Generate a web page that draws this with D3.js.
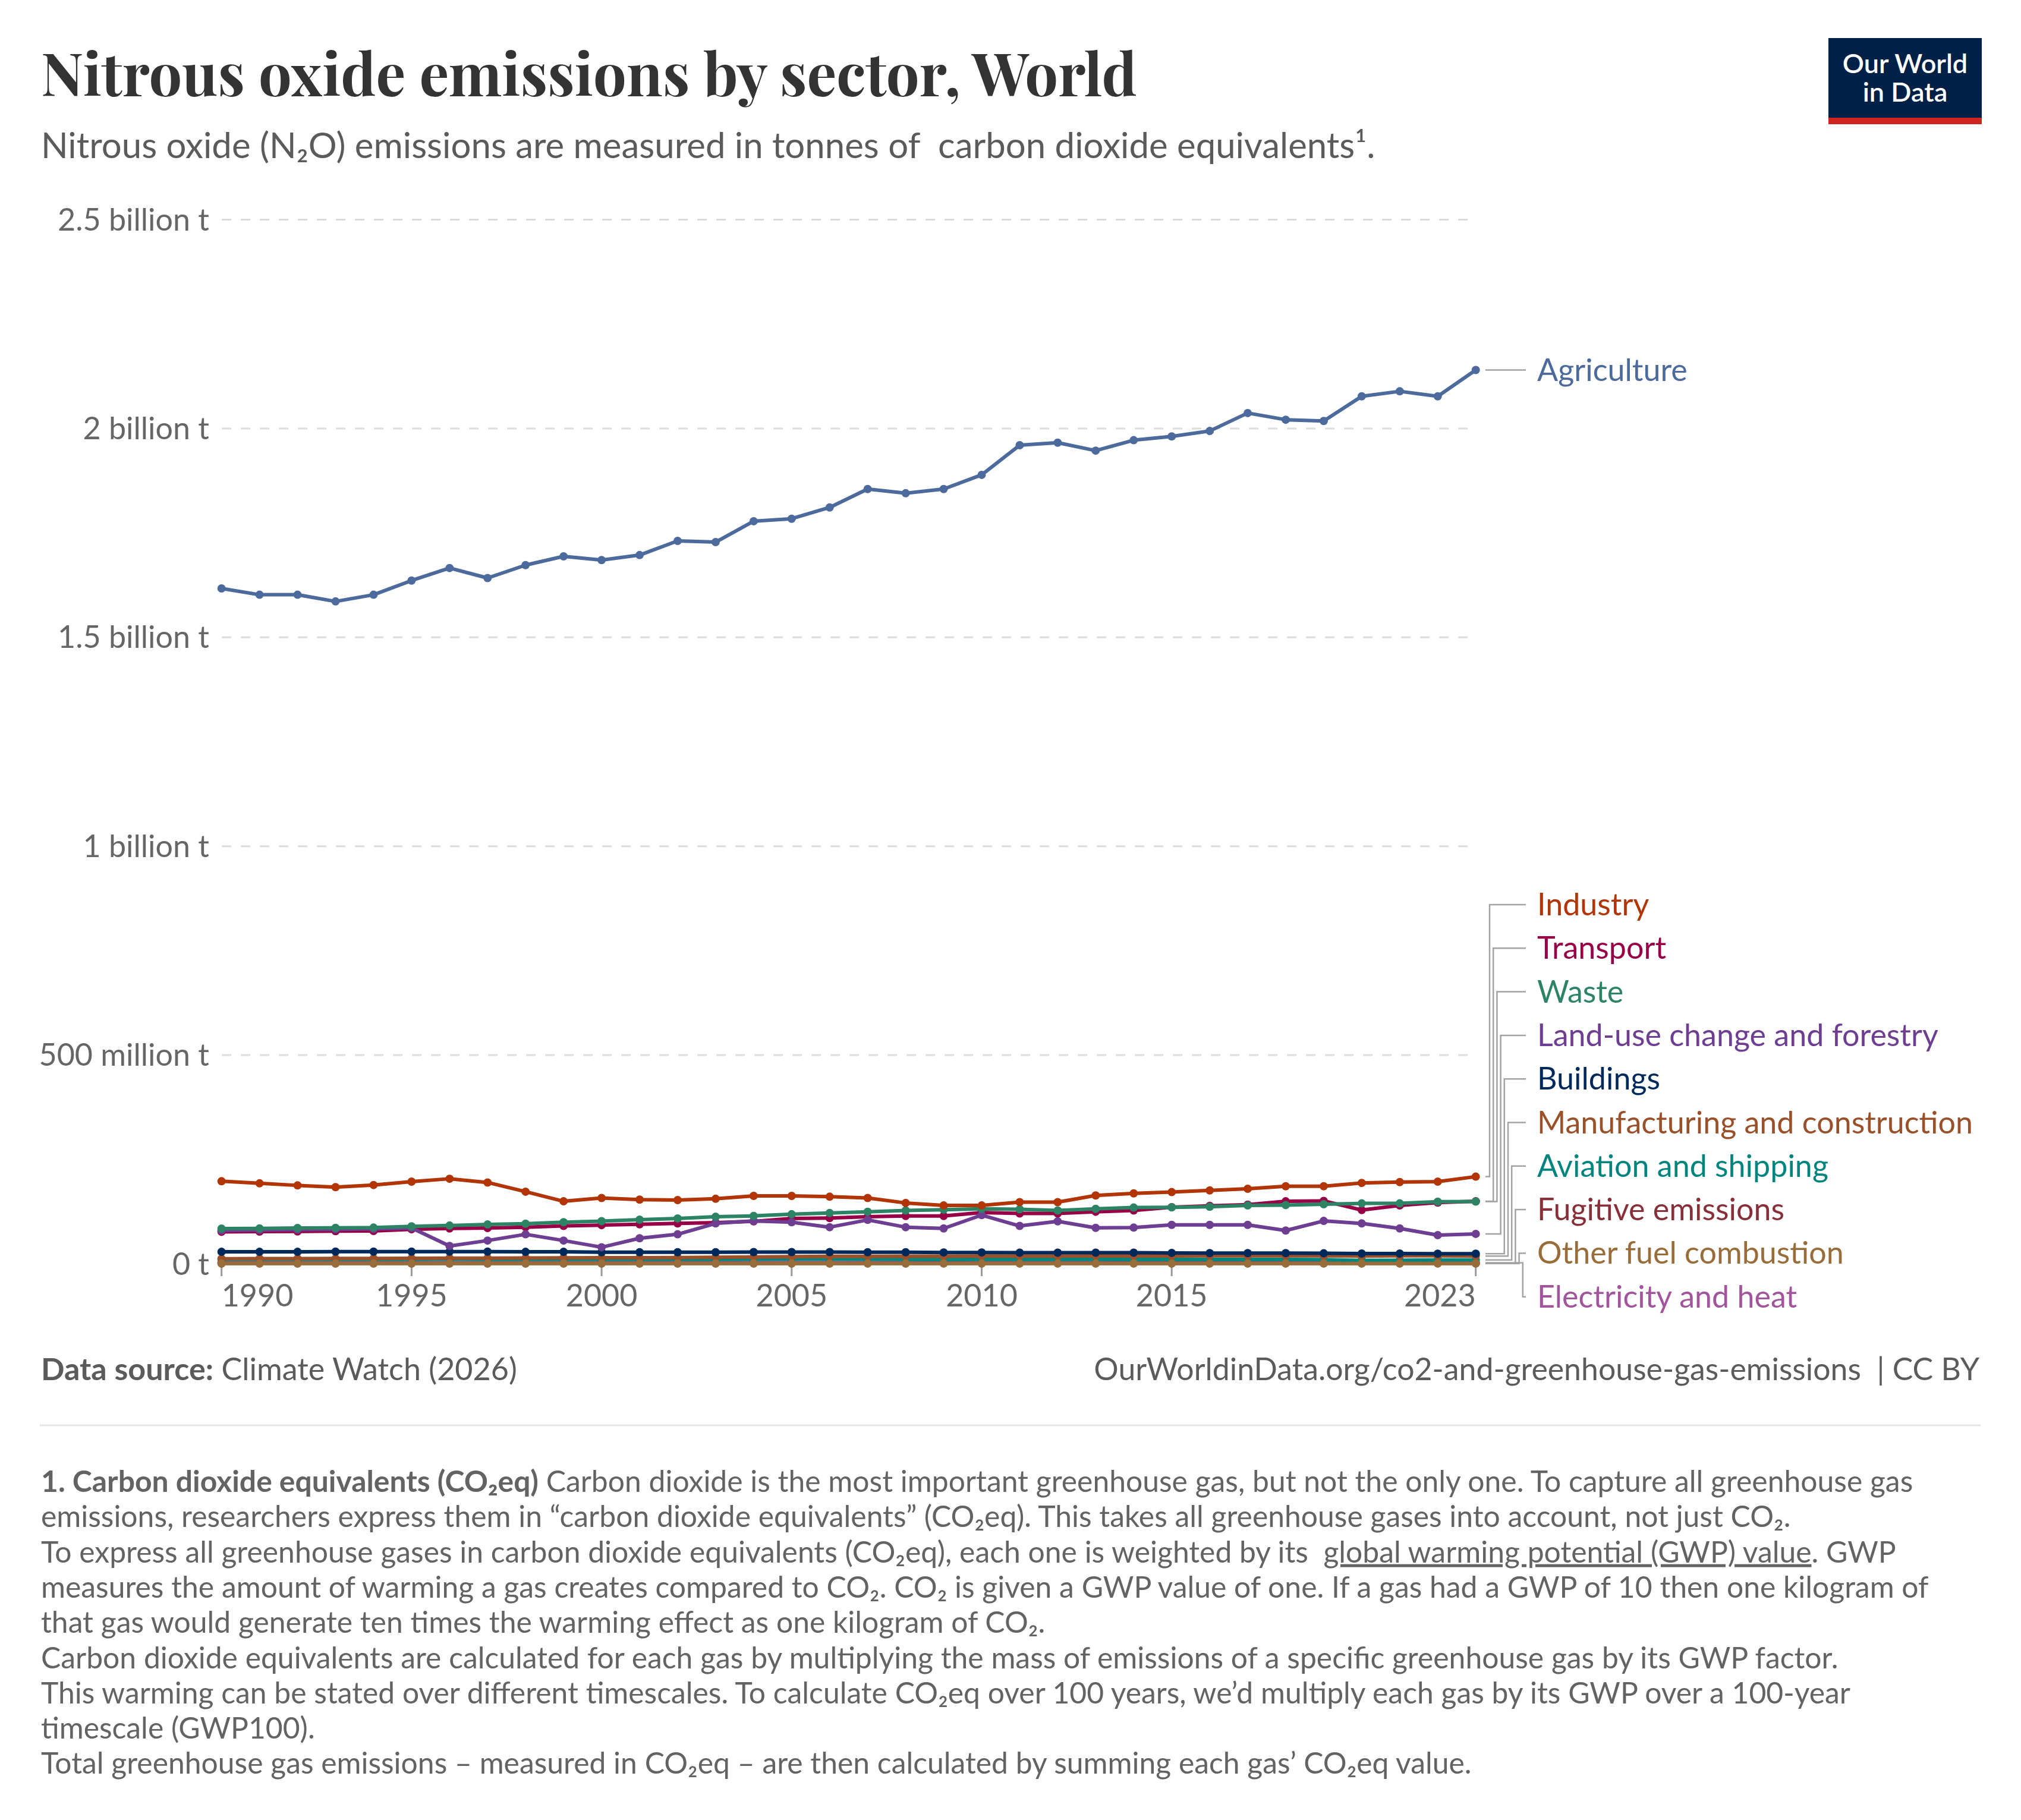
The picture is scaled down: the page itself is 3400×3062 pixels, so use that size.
<!DOCTYPE html>
<html>
<head>
<meta charset="utf-8">
<script src="https://cdn.jsdelivr.net/npm/d3@7/dist/d3.min.js"></script>
<style>
body { margin: 0; background: #fff; }
svg text { font-family: Lato, "Noto Sans", sans-serif; }
</style>
</head>
<body>
<script>
// values in million tonnes CO2eq
var years = [1990,1991,1992,1993,1994,1995,1996,1997,1998,1999,2000,2001,2002,2003,2004,2005,2006,
  2007,2008,2009,2010,2011,2012,2013,2014,2015,2016,2017,2018,2019,2020,2021,2022,2023];

var agriculture = [1617,1602,1602,1586,1602,1636,1666,1642,1673,1694,1685,1697,1731,1728,1778,1784,1811,
  1855,1845,1855,1889,1960,1966,1947,1972,1981,1994,2037,2021,2018,2077,2089,2077,2140];
var industry = [198,193,188,184,189,197,204,195,173,150,158,154,153,156,163,163,161,
  158,146,140,140,148,148,164,169,172,176,180,186,186,194,196,197,209];
var transport = [77,77.5,78,78.5,79,83,85,86,88,91,93,95,97,99,102,109,110,
  113,115,115,123,121,121,125,128,136,139,142,150,151,129,140,147,150];
var waste = [84.5,85,86,86.5,87,90,92,94.5,96.5,100,102.5,106,109,113,115,119,122,
  125,128,130,132,131,128,132,135,135.5,137,140,141,143,145,145,149,149.5];
var landUse = [80,81,82,83,84,86,43,56,71,56,40,61.5,71,97,103,100,88,
  105.5,88,85,117,91,102,86.5,87,93.6,93.6,93.6,80,103,97,85,69,72];
var buildings = [29,29,29,29.5,29.5,29.5,29.5,29.5,29,29,28,28,28,28,28.5,28.5,28.5,
  28,28,27.5,27.5,27,27,27,27,26.5,26,26,26,25.5,25,25,24.5,24.5];
var manufacturing = [12.5,12.7,12.8,13,13.2,13.5,13.8,14,14.2,14.5,14.8,15,15.3,16,16.8,17.5,18,
  18.3,18.5,18.5,19,19,19,19.2,19.3,19.3,19.4,19.4,19.5,19.5,19,19.5,19.5,19];
var aviation = [11,11,11,11,11.2,11.2,11.3,11.2,11,11,11.2,11,11,11.2,11.4,11.6,11.6,
  11.5,11.2,10.8,11,11,10.9,10.9,10.8,10.7,10.6,10.6,10.5,10.4,8.5,9,9.5,9.5];
var fugitive = [1.5,1.5,1.5,1.5,1.5,1.5,1.5,1.5,1.5,1.5,1.5,1.5,1.5,1.5,1.6,1.6,1.6,
  1.6,1.6,1.6,1.6,1.6,1.6,1.6,1.6,1.6,1.6,1.6,1.6,1.6,1.6,1.6,1.6,1.6];
var otherFuel = [1,1,1,1,1,1,1,1,1,1,1,1,1,1,1,1,1,
  1,1,1,1,1,1,1,1,1,1,1,1,1,1,1,1,1];
var electricity = [3,3,3,3,3,3,3,3,3,3,3,3.1,3.1,3.2,3.2,3.3,3.3,
  3.3,3.3,3.2,3.3,3.3,3.3,3.3,3.2,3.2,3.1,3.1,3.1,3,2.9,3,3,3];

var yTicks = [0, 500, 1000, 1500, 2000, 2500];
var yTickLabels = ["0 t", "500 million t", "1 billion t", "1.5 billion t", "2 billion t", "2.5 billion t"];
var xTicks = [1990, 1995, 2000, 2005, 2010, 2015, 2023];

// legend order (top to bottom) for the lower cluster
var legendNames = ["Industry", "Transport", "Waste", "Land-use change and forestry", "Buildings",
  "Manufacturing and construction", "Aviation and shipping", "Fugitive emissions",
  "Other fuel combustion", "Electricity and heat"];

var series = [
  {name: "Electricity and heat", color: "#A2559C", values: electricity},
  {name: "Fugitive emissions", color: "#883039", values: fugitive},
  {name: "Aviation and shipping", color: "#00847E", values: aviation},
  {name: "Manufacturing and construction", color: "#9A5129", values: manufacturing},
  {name: "Other fuel combustion", color: "#996D39", values: otherFuel},
  {name: "Buildings", color: "#00295B", values: buildings},
  {name: "Transport", color: "#970046", values: transport},
  {name: "Land-use change and forestry", color: "#6D3E91", values: landUse},
  {name: "Waste", color: "#2C8465", values: waste},
  {name: "Industry", color: "#B13507", values: industry},
  {name: "Agriculture", color: "#4C6A9C", values: agriculture}
];

var W = 3400, H = 3062;
var svg = d3.select("body").append("svg").attr("width", W).attr("height", H);
svg.append("rect").attr("width", W).attr("height", H).attr("fill", "#fff");

var x = d3.scaleLinear().domain([1990, 2023]).range([372.7, 2482.7]);
var y = d3.scaleLinear().domain([0, 2500]).range([2126.5, 369.5]);

// shrink/grow a text's font so it spans the width seen in the picture
function fitWidth(sel, size, target) {
  var w = sel.node().getComputedTextLength();
  sel.style("font-size", (size * target / w) + "px");
}

// title
var title = svg.append("text")
  .attr("x", 69).attr("y", 162)
  .style("font-family", "'Playfair Display', 'Liberation Serif', 'DejaVu Serif', serif")
  .style("font-weight", "700")
  .style("font-size", "100px")
  .attr("fill", "#333")
  .text("Nitrous oxide emissions by sector, World");
fitWidth(title, 100, 1844);

var sub = svg.append("text")
  .attr("x", 69).attr("y", 266)
  .style("font-size", "52px")
  .attr("fill", "#5b5b5b")
  .text("Nitrous oxide (N\u2082O) emissions are measured in tonnes of\u00a0 carbon dioxide equivalents\u00b9.");
fitWidth(sub, 52, 2245);

// logo
var logo = svg.append("g");
logo.append("rect").attr("x", 3076).attr("y", 64).attr("width", 258).attr("height", 145).attr("fill", "#002147");
logo.append("rect").attr("x", 3076).attr("y", 198).attr("width", 258).attr("height", 11).attr("fill", "#ce261e");
logo.append("text").attr("x", 3205).attr("y", 123).attr("text-anchor", "middle")
  .style("font-size", "45px").style("font-weight", "600").attr("fill", "#fff").text("Our World");
logo.append("text").attr("x", 3205).attr("y", 171).attr("text-anchor", "middle")
  .style("font-size", "45px").style("font-weight", "600").attr("fill", "#fff").text("in Data");

// grid
svg.append("g").selectAll("line").data(yTicks).enter().append("line")
  .attr("x1", 373).attr("x2", 2484)
  .attr("y1", function(d) { return y(d); })
  .attr("y2", function(d) { return y(d); })
  .attr("stroke", "#dcdcdc").attr("stroke-width", 3)
  .attr("stroke-dasharray", "16,16");

svg.append("g").selectAll("text").data(yTicks).enter().append("text")
  .attr("x", 352)
  .attr("y", function(d) { return y(d) + 18; })
  .attr("text-anchor", "end")
  .style("font-size", "52px")
  .attr("fill", "#666")
  .text(function(d, i) { return yTickLabels[i]; });

// x axis ticks
svg.append("g").selectAll("line").data(xTicks).enter().append("line")
  .attr("x1", function(d) { return x(d); }).attr("x2", function(d) { return x(d); })
  .attr("y1", 2131).attr("y2", 2147)
  .attr("stroke", "#999").attr("stroke-width", 3);

svg.append("g").selectAll("text").data(xTicks).enter().append("text")
  .attr("x", function(d) { return x(d); })
  .attr("y", 2198)
  .attr("text-anchor", function(d, i) { return i == 0 ? "start" : (i == xTicks.length - 1 ? "end" : "middle"); })
  .style("font-size", "52px")
  .attr("fill", "#666")
  .text(function(d) { return d; });

// lines
var line = d3.line()
  .x(function(d, i) { return x(years[i]); })
  .y(function(d) { return y(d); });

var lineGroup = svg.append("g");
series.forEach(function(s) {
  var g = lineGroup.append("g");
  g.append("path")
    .attr("d", line(s.values))
    .attr("fill", "none")
    .attr("stroke", s.color)
    .attr("stroke-width", 6)
    .attr("stroke-linejoin", "round");
  g.selectAll("circle").data(s.values).enter().append("circle")
    .attr("cx", function(d, i) { return x(years[i]); })
    .attr("cy", function(d) { return y(d); })
    .attr("r", 7)
    .attr("fill", s.color);
});

// labels + connectors
var labelX = 2586, stubEnd = 2567, lineEnd = 2499;
var conn = svg.append("g");
var lab = svg.append("g");

var agri = series[series.length - 1];
var agY = y(agri.values[agri.values.length - 1]);
conn.append("path")
  .attr("d", "M" + lineEnd + "," + agY + "H" + stubEnd)
  .attr("fill", "none").attr("stroke", "#a3a3a3").attr("stroke-width", 2.5);
lab.append("text").attr("x", labelX).attr("y", agY + 18)
  .style("font-size", "52px").attr("fill", agri.color).text("Agriculture");

legendNames.forEach(function(name, i) {
  var s = series.filter(function(d) { return d.name == name; })[0];
  var yData = y(s.values[s.values.length - 1]);
  var yLab = 1522 + i * 73.3;
  var xv = 2506 + i * 6.2;
  conn.append("path")
    .attr("d", "M" + lineEnd + "," + yData + "H" + xv + "V" + yLab + "H" + stubEnd)
    .attr("fill", "none").attr("stroke", "#a3a3a3").attr("stroke-width", 2.5);
  lab.append("text").attr("x", labelX).attr("y", yLab + 18)
    .style("font-size", "52px").attr("fill", s.color).text(name);
});

// footer
var src = svg.append("text").attr("x", 69).attr("y", 2322)
  .style("font-size", "52px").attr("fill", "#5b5b5b");
src.append("tspan").style("font-weight", "700").text("Data source:");
src.append("tspan").text(" Climate Watch (2026)");
fitWidth(src, 52, 801);

var url = svg.append("text").attr("x", 3330).attr("y", 2322).attr("text-anchor", "end")
  .style("font-size", "52px").attr("fill", "#5b5b5b")
  .text("OurWorldinData.org/co2-and-greenhouse-gas-emissions\u00a0 | CC BY");
fitWidth(url, 52, 1490);

svg.append("line").attr("x1", 67).attr("x2", 3332).attr("y1", 2398).attr("y2", 2398)
  .attr("stroke", "#e6e6e6").attr("stroke-width", 3);

var notes = [
  [{b: true, t: "1. Carbon dioxide equivalents (CO\u2082eq)"}, {t: " Carbon dioxide is the most important greenhouse gas, but not the only one. To capture all greenhouse gas"}],
  [{t: "emissions, researchers express them in \u201ccarbon dioxide equivalents\u201d (CO\u2082eq). This takes all greenhouse gases into account, not just CO\u2082."}],
  [{t: "To express all greenhouse gases in carbon dioxide equivalents (CO\u2082eq), each one is weighted by its\u00a0 "}, {u: true, t: "global warming potential (GWP) value"}, {t: ". GWP"}],
  [{t: "measures the amount of warming a gas creates compared to CO\u2082. CO\u2082 is given a GWP value of one. If a gas had a GWP of 10 then one kilogram of"}],
  [{t: "that gas would generate ten times the warming effect as one kilogram of CO\u2082."}],
  [{t: "Carbon dioxide equivalents are calculated for each gas by multiplying the mass of emissions of a specific greenhouse gas by its GWP factor."}],
  [{t: "This warming can be stated over different timescales. To calculate CO\u2082eq over 100 years, we\u2019d multiply each gas by its GWP over a 100-year"}],
  [{t: "timescale (GWP100)."}],
  [{t: "Total greenhouse gas emissions \u2013 measured in CO\u2082eq \u2013 are then calculated by summing each gas\u2019 CO\u2082eq value."}]
];

var noteG = svg.append("g");
var noteTexts = [];
notes.forEach(function(parts, i) {
  var t = noteG.append("text").attr("x", 69).attr("y", 2510 + i * 59.3)
    .style("font-size", "46px").attr("fill", "#636363");
  parts.forEach(function(p) {
    var ts = t.append("tspan").text(p.t);
    if (p.b) ts.style("font-weight", "700");
    if (p.u) ts.style("text-decoration", "underline");
  });
  noteTexts.push(t);
});
// same size for every footnote line, taken from the first line's width
var w0 = noteTexts[0].node().getComputedTextLength();
var noteSize = 46 * 3150 / w0;
noteTexts.forEach(function(t) { t.style("font-size", noteSize + "px"); });
</script>
</body>
</html>
